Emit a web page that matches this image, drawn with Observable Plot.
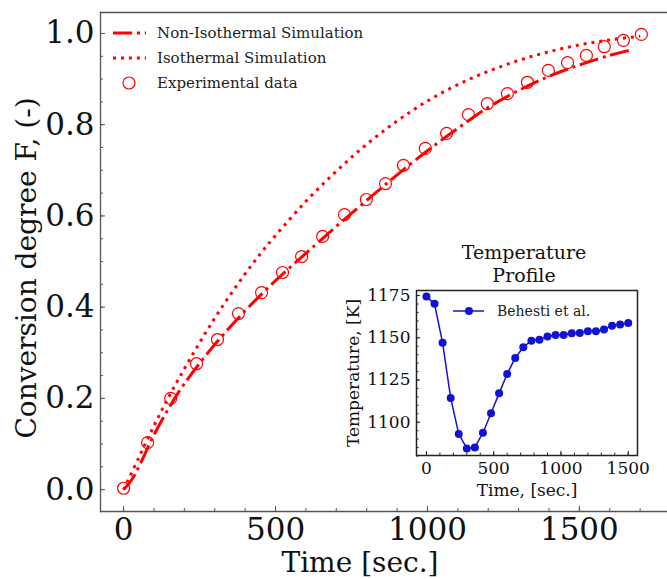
<!DOCTYPE html>
<html>
<head>
<meta charset="utf-8">
<script src="https://cdn.jsdelivr.net/npm/d3@7"></script>
<script src="https://cdn.jsdelivr.net/npm/@observablehq/plot@0.6"></script>
<style>
  html, body { margin: 0; padding: 0; background: white; }
  #wrap { position: relative; width: 667px; height: 579px; overflow: hidden; font-family: "DejaVu Serif", serif; }
  #inset { position: absolute; left: 330px; top: 230px; }
  .leg { position: absolute; left: 0; top: 0; }
</style>
</head>
<body>
<div id="wrap"></div>
<script>
// ---------- Main chart data ----------
const expTime = [0, 79, 155, 240, 309, 378, 454, 523, 586, 655, 727, 799, 862, 921, 993, 1063, 1135, 1197, 1263, 1329, 1398, 1461, 1523, 1582, 1645, 1704];
const expF    = [0.003, 0.103, 0.2, 0.276, 0.329, 0.386, 0.432, 0.476, 0.511, 0.555, 0.603, 0.636, 0.671, 0.711, 0.748, 0.781, 0.822, 0.846, 0.868, 0.893, 0.919, 0.936, 0.952, 0.971, 0.985, 0.998];

const nonIsoTime = [0, 25, 50, 100, 150, 200, 300, 400, 500, 600, 700, 800, 900, 1000, 1100, 1200, 1300, 1400, 1500, 1600, 1665];
const nonIsoF    = [0.0, 0.02, 0.05, 0.12, 0.18, 0.232, 0.318, 0.392, 0.458, 0.518, 0.577, 0.634, 0.69, 0.743, 0.792, 0.838, 0.875, 0.906, 0.931, 0.952, 0.963];

const isoTime = [0, 50, 100, 150, 200, 250, 300, 350, 400, 450, 500, 600, 700, 800, 900, 1000, 1100, 1200, 1300, 1400, 1500, 1600, 1700];
const isoF    = [0.0, 0.07, 0.14, 0.205, 0.265, 0.322, 0.376, 0.426, 0.473, 0.517, 0.557, 0.632, 0.698, 0.757, 0.808, 0.852, 0.888, 0.917, 0.941, 0.96, 0.975, 0.986, 0.994];

const xMajor = [0, 500, 1000, 1500];
const yMajor = [0.0, 0.2, 0.4, 0.6, 0.8, 1.0];

const legendLabels = ["Non-Isothermal Simulation", "Isothermal Simulation", "Experimental data"];

// ---------- Inset data ----------
const insetTime = [0, 60, 120, 180, 240, 300, 360, 420, 480, 540, 600, 660, 720, 780, 840, 900, 960, 1020, 1080, 1140, 1200, 1260, 1320, 1380, 1440, 1500];
const insetTemp = [1174.4, 1170.1, 1147.0, 1114.4, 1093.1, 1084.5, 1085.1, 1093.8, 1105.3, 1117.1, 1128.6, 1138.1, 1144.4, 1148.3, 1148.9, 1150.7, 1151.7, 1151.7, 1152.7, 1152.9, 1153.9, 1153.9, 1154.9, 1157.2, 1157.8, 1158.8];
const insetXMajor = [0, 500, 1000, 1500];
const insetYMajor = [1100, 1125, 1150, 1175];
const insetLegend = "Behesti et al.";

// ---------- tables ----------
const expData = expTime.map((t, i) => ({t, F: expF[i]}));
const nonIsoData = nonIsoTime.map((t, i) => ({t, F: nonIsoF[i]}));
const isoData = isoTime.map((t, i) => ({t, F: isoF[i]}));
const insetData = insetTime.map((t, i) => ({t, T: insetTemp[i]}));

const RED = "#ff0000";
const BLUE = "#1212d4";
const FONT = "DejaVu Serif";
const axisGray = "#555";
const intFmt = d => String(d);

const xMinor = d3.range(0, 1800, 100);
const yMinor = d3.range(0, 1.0001, 0.05).map(v => +v.toFixed(2));

const main = Plot.plot({
  width: 667, height: 579,
  marginLeft: 100, marginRight: 0, marginTop: 12, marginBottom: 68,
  style: {fontFamily: FONT, background: "white", color: "#111", overflow: "visible"},
  x: {domain: [-76, 1790]},
  y: {domain: [-0.048, 1.046]},
  marks: [
    Plot.frame({anchor: "top", stroke: axisGray, strokeWidth: 1.3}),
    Plot.frame({anchor: "left", stroke: axisGray, strokeWidth: 1.3}),
    Plot.frame({anchor: "bottom", stroke: axisGray, strokeWidth: 1.3}),
    // inward ticks
    Plot.axisX(xMinor, {tickSize: 3, dy: -3, fill: "none", stroke: axisGray, label: null}),
    Plot.axisX(xMajor, {tickSize: 5, dy: -5, fill: "none", stroke: axisGray, label: null}),
    Plot.axisY(yMinor, {tickSize: 3, dx: 3, fill: "none", stroke: axisGray, label: null}),
    Plot.axisY(yMajor, {tickSize: 5, dx: 5, fill: "none", stroke: axisGray, label: null}),
    // tick labels
    Plot.axisX(xMajor, {tickSize: 0, tickPadding: 6, fontSize: 31, stroke: "none", fill: "#111", label: null, tickFormat: intFmt}),
    Plot.axisY(yMajor, {tickSize: 0, tickPadding: 6, fontSize: 31, stroke: "none", fill: "#111", label: null, tickFormat: d3.format(".1f")}),
    // axis titles
    Plot.text(["Time [sec.]"], {frameAnchor: "bottom", textAnchor: "middle", lineAnchor: "middle", dx: -24, dy: 52, fontSize: 28, fill: "#111"}),
    Plot.text(["Conversion degree F, (-)"], {frameAnchor: "left", textAnchor: "middle", lineAnchor: "middle", rotate: -90, dx: -73, dy: 6, fontSize: 28, fill: "#111"}),
    // series
    Plot.line(isoData, {x: "t", y: "F", stroke: RED, strokeWidth: 3, strokeDasharray: "3,4.95", strokeLinecap: "butt", curve: "catmull-rom"}),
    Plot.line(nonIsoData, {x: "t", y: "F", stroke: RED, strokeWidth: 3, strokeDasharray: "19.2,4.8,3,4.8", strokeLinecap: "butt", curve: "catmull-rom"}),
    Plot.dot(expData, {x: "t", y: "F", r: 6, stroke: RED, strokeWidth: 1.2, fill: "none"})
  ]
});

const insetXMinor = d3.range(0, 1600, 100);
const insetYMinor = d3.range(1080, 1180, 5);

const inset = Plot.plot({
  width: 337, height: 280,
  marginLeft: 86, marginRight: 30, marginTop: 60, marginBottom: 55,
  style: {fontFamily: FONT, background: "transparent", color: "#111", overflow: "visible"},
  x: {domain: [-74, 1569]},
  y: {domain: [1080.3, 1178]},
  marks: [
    Plot.frame({fill: "white", stroke: "none"}),
    Plot.axisX(insetXMinor, {tickSize: 2.5, dy: -2.5, fill: "none", stroke: "#222", label: null}),
    Plot.axisX(insetXMajor, {tickSize: 4, dy: -4, fill: "none", stroke: "#222", label: null}),
    Plot.axisY(insetYMinor, {tickSize: 2.5, dx: 2.5, fill: "none", stroke: "#222", label: null}),
    Plot.axisY(insetYMajor, {tickSize: 4, dx: 4, fill: "none", stroke: "#222", label: null}),
    Plot.axisX(insetXMajor, {tickSize: 0, tickPadding: 6, fontSize: 17, stroke: "none", fill: "#111", label: null, tickFormat: intFmt}),
    Plot.axisY(insetYMajor, {tickSize: 0, tickPadding: 6, fontSize: 17, stroke: "none", fill: "#111", label: null, tickFormat: intFmt}),
    Plot.frame({stroke: "#222", strokeWidth: 1.5}),
    Plot.text(["Time, [sec.]"], {frameAnchor: "bottom", textAnchor: "middle", lineAnchor: "middle", dy: 35, fontSize: 17, fill: "#111"}),
    Plot.text(["Temperature, [K]"], {frameAnchor: "left", textAnchor: "middle", lineAnchor: "middle", rotate: -90, dx: -63, fontSize: 17, fill: "#111"}),
    Plot.text(["Temperature\nProfile"], {frameAnchor: "top", textAnchor: "middle", lineAnchor: "middle", dx: -3, dy: -27, fontSize: 19, lineHeight: 1.2, fill: "#111"}),
    Plot.line(insetData, {x: "t", y: "T", stroke: BLUE, strokeWidth: 1.5}),
    Plot.dot(insetData, {x: "t", y: "T", r: 4, fill: BLUE, stroke: "none"})
  ]
});
inset.id = "inset";

const wrap = document.getElementById("wrap");
wrap.appendChild(main);
wrap.appendChild(inset);

// ---------- legends (layout overlay) ----------
const leg = d3.select(wrap).append("svg").attr("class", "leg").attr("width", 667).attr("height", 579)
  .attr("font-family", FONT);

const rows = [
  {y: 33, type: "dashdot"},
  {y: 58, type: "dot"},
  {y: 83, type: "circle"}
];
rows.forEach((r, i) => {
  if (r.type === "dashdot") {
    leg.append("line").attr("x1", 113).attr("x2", 146).attr("y1", r.y).attr("y2", r.y)
      .attr("stroke", RED).attr("stroke-width", 3).attr("stroke-dasharray", "19.2,4.8,3,4.8");
  } else if (r.type === "dot") {
    leg.append("line").attr("x1", 113).attr("x2", 146).attr("y1", r.y).attr("y2", r.y)
      .attr("stroke", RED).attr("stroke-width", 3).attr("stroke-dasharray", "3,4.95");
  } else {
    leg.append("circle").attr("cx", 129).attr("cy", r.y).attr("r", 6)
      .attr("fill", "none").attr("stroke", RED).attr("stroke-width", 1.2);
  }
  leg.append("text").attr("x", 157).attr("y", r.y).attr("dy", "0.35em")
    .attr("font-family", FONT).attr("font-size", 15).attr("fill", "#222").text(legendLabels[i]);
});

// inset legend
leg.append("line").attr("x1", 453).attr("x2", 484).attr("y1", 311).attr("y2", 311)
  .attr("stroke", BLUE).attr("stroke-width", 1.5);
leg.append("circle").attr("cx", 469).attr("cy", 311).attr("r", 4).attr("fill", BLUE);
leg.append("text").attr("x", 497).attr("y", 311).attr("dy", "0.35em")
  .attr("font-family", FONT).attr("font-size", 14).attr("fill", "#222").text(insetLegend);
</script>
</body>
</html>
